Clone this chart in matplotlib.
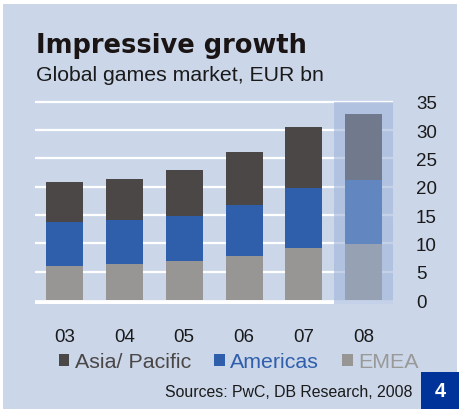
import matplotlib.pyplot as plt
from matplotlib.patches import Rectangle

plt.rcParams['font.family'] = ['Liberation Sans', 'DejaVu Sans']

years = ["03", "04", "05", "06", "07", "08"]
emea = [6.0, 6.35, 6.9, 7.8, 9.1, 9.9]
americas = [7.7, 7.75, 7.9, 9.0, 10.6, 11.3]
asia = [7.1, 7.3, 8.1, 9.3, 10.9, 11.6]
yticks = [0, 5, 10, 15, 20, 25, 30, 35]

W, H = 459, 410
bg = "#cbd7e9"
c_asia = ["#4b4746"] * 5 + ["#717a8c"]
c_amer = ["#2f5fab"] * 5 + ["#6186c0"]
c_emea = ["#989694"] * 5 + ["#96a2b4"]

fig = plt.figure(figsize=(W / 100, H / 100), dpi=100, facecolor="white")
fig.patches.append(Rectangle((3 / W, 0), 454 / W, 405 / H, transform=fig.transFigure,
                             facecolor=bg, edgecolor="none", zorder=-10))

ax = fig.add_axes([35 / W, (H - 305) / H, 358 / W, 204 / H])
ax.set_facecolor("none")
for s in ax.spines.values():
    s.set_visible(False)

x = range(len(years))
ax.set_xlim(-0.495, 5.49)
ax.set_ylim(-0.7, 35.3)

for v in yticks[1:]:
    ax.axhline(v, color="white", lw=1.6, zorder=1)
ax.axhline(-0.35, color="white", lw=3.4, zorder=1)

# highlight for 2008
ax.add_patch(Rectangle((4.5, -0.7), 0.99, 35.65, facecolor="#a2b7db", alpha=0.63,
                       edgecolor="none", zorder=2))

bw = 0.62
b1 = ax.bar(x, emea, bw, color=c_emea, zorder=3, label="EMEA")
bottom2 = [e for e in emea]
b2 = ax.bar(x, americas, bw, bottom=bottom2, color=c_amer, zorder=3, label="Americas")
bottom3 = [e + a for e, a in zip(emea, americas)]
b3 = ax.bar(x, asia, bw, bottom=bottom3, color=c_asia, zorder=3, label="Asia/ Pacific")

ax.set_xticks(list(x))
ax.set_xticklabels(years, fontsize=13.5, color="#1a1a1a")
ax.set_yticks(yticks)
ax.set_yticklabels([str(v) for v in yticks], fontsize=13.5, color="#1a1a1a")
ax.yaxis.tick_right()
ax.tick_params(axis="y", length=0, pad=16.5)
ax.tick_params(axis="x", length=0, pad=17)

leg = ax.legend(handles=[b3, b2, b1], loc="center left",
                bbox_to_anchor=(59 / W, 1 - 363 / H), bbox_transform=fig.transFigure,
                ncol=3, frameon=False, fontsize=15.4, handlelength=0.48, handleheight=0.48,
                handletextpad=0.25, columnspacing=1.1, borderaxespad=0, borderpad=0)
for t, c in zip(leg.get_texts(), ["#4b4746", "#2f5fab", "#999999"]):
    t.set_color(c)

fig.text(36 / W, 1 - 53 / H, "Impressive growth", fontsize=18.5, fontweight="bold",
         family="DejaVu Sans", color="#1a1414", va="baseline", ha="left")
fig.text(36 / W, 1 - 81.5 / H, "Global games market, EUR bn", fontsize=15.3,
         color="#1a1a1a", va="baseline", ha="left")
fig.text(412 / W, 1 - 397 / H, "Sources: PwC, DB Research, 2008", fontsize=11.4,
         color="#1a1a1a", va="baseline", ha="right")

fig.patches.append(Rectangle((421 / W, 0), 38 / W, 37 / H, transform=fig.transFigure,
                             facecolor="#003399", edgecolor="none", zorder=5))
fig.text(440 / W, 1 - 392 / H, "4", fontsize=14.5, fontweight="bold", color="white",
         va="center", ha="center", zorder=6)

fig.savefig("out.png", dpi=100, facecolor=fig.get_facecolor())
